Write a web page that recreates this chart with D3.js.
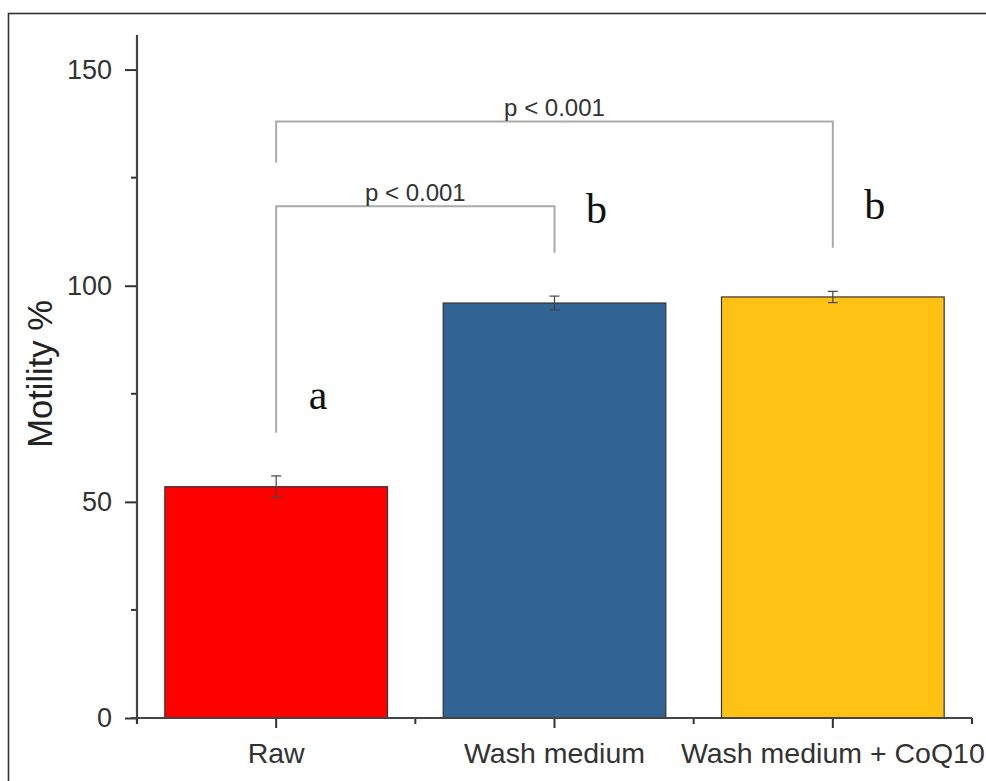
<!DOCTYPE html>
<html>
<head>
<meta charset="utf-8">
<script src="https://cdn.jsdelivr.net/npm/d3@7"></script>
<style>
  body { margin: 0; background: #fff; }
  svg { display: block; }
</style>
</head>
<body>
<div id="chart"></div>
<script>
var width = 986;
var height = 781;

// data
var groups = ["Raw", "Wash medium", "Wash medium + CoQ10"];
var means = [53.5, 96.0, 97.4];
var errs = [2.5, 1.6, 1.3];
var barColors = ["#fe0000", "#316395", "#fec214"];
var letters = ["a", "b", "b"];
var yTicks = [0, 50, 100, 150];
var yMinor = [25, 75, 125];

// brackets: [from group, to group, top value, left leg end, right leg end, label]
var brackets = [
	[0, 1, 118.4, 66, 107.6, "p < 0.001"],
	[0, 2, 138.0, 128.5, 108.8, "p < 0.001"]
];

var svg = d3.select("#chart")
	.append("svg")
	.attr("width", width)
	.attr("height", height);

// outer frame
svg.append("rect")
	.attr("x", 8.5)
	.attr("y", 13.5)
	.attr("width", width)
	.attr("height", height)
	.attr("fill", "none")
	.attr("stroke", "#333")
	.attr("stroke-width", 1.6);

var x = d3.scaleBand()
	.domain(groups)
	.range([137, 972])
	.paddingInner(0.2)
	.paddingOuter(0.1);

var y = d3.scaleLinear()
	.domain([0, 158])
	.range([718, 35]);

var font = "'Liberation Sans', Arial, sans-serif";

// bars
svg.append("g")
	.selectAll("rect")
	.data(groups)
	.enter()
	.append("rect")
	.attr("x", function(d) { return x(d); })
	.attr("y", function(d, i) { return y(means[i]); })
	.attr("width", x.bandwidth())
	.attr("height", function(d, i) { return y(0) - y(means[i]); })
	.attr("fill", function(d, i) { return barColors[i]; })
	.attr("stroke", "#333")
	.attr("stroke-width", 1.2);

// error bars
var eb = svg.append("g").attr("stroke", "#444").attr("stroke-width", 1.2);
groups.forEach(function(g, i) {
	var cx = x(g) + x.bandwidth() / 2;
	eb.append("line").attr("x1", cx).attr("x2", cx)
		.attr("y1", y(means[i] + errs[i])).attr("y2", y(means[i] - errs[i]));
	[means[i] + errs[i], means[i] - errs[i]].forEach(function(v) {
		eb.append("line").attr("x1", cx - 5).attr("x2", cx + 5)
			.attr("y1", y(v)).attr("y2", y(v));
	});
});

// y axis
var yAxis = svg.append("g")
	.attr("transform", "translate(137,0)")
	.call(d3.axisLeft(y).tickValues(yTicks).tickSize(12).tickPadding(13));
yAxis.select(".domain").remove();
yAxis.selectAll(".tick line").attr("stroke", "#333").attr("stroke-width", 2);
yAxis.selectAll(".tick text")
	.attr("fill", "#333")
	.style("font-family", font)
	.style("font-size", "27px");
svg.append("g")
	.selectAll("line")
	.data(yMinor)
	.enter()
	.append("line")
	.attr("x1", 131).attr("x2", 137)
	.attr("y1", function(d) { return y(d); })
	.attr("y2", function(d) { return y(d); })
	.attr("stroke", "#333").attr("stroke-width", 2);
svg.append("line")
	.attr("x1", 137).attr("x2", 137)
	.attr("y1", y.range()[1]).attr("y2", y(0) + 6)
	.attr("stroke", "#444").attr("stroke-width", 2.2);

// x axis
var xAxis = svg.append("g")
	.attr("transform", "translate(0,718)")
	.call(d3.axisBottom(x).tickSize(10).tickPadding(15));
xAxis.select(".domain").remove();
xAxis.selectAll(".tick line").attr("stroke", "#333").attr("stroke-width", 2);
xAxis.selectAll(".tick text")
	.attr("fill", "#333")
	.style("font-family", font)
	.style("font-size", "28.5px");
var xMinor = [x.range()[0], x.range()[1]];
for (var k = 1; k < groups.length; k++) {
	xMinor.push((x(groups[k - 1]) + x(groups[k]) + x.bandwidth()) / 2);
}
svg.append("g")
	.selectAll("line")
	.data(xMinor)
	.enter()
	.append("line")
	.attr("x1", function(d) { return d; })
	.attr("x2", function(d) { return d; })
	.attr("y1", 718).attr("y2", 724)
	.attr("stroke", "#333").attr("stroke-width", 2);
svg.append("line")
	.attr("x1", 131).attr("x2", 972)
	.attr("y1", 718).attr("y2", 718)
	.attr("stroke", "#444").attr("stroke-width", 2.2);

// y label
svg.append("text")
	.attr("transform", "translate(52," + 374 + ") rotate(-90)")
	.attr("text-anchor", "middle")
	.attr("fill", "#222")
	.style("font-family", font)
	.style("font-size", "34.5px")
	.text("Motility %");

// significance brackets
function cx(i) { return x(groups[i]) + x.bandwidth() / 2; }
brackets.forEach(function(b) {
	var x1 = cx(b[0]), x2 = cx(b[1]);
	svg.append("path")
		.attr("d", "M" + x1 + "," + y(b[3]) + "V" + y(b[2]) + "H" + x2 + "V" + y(b[4]))
		.attr("fill", "none")
		.attr("stroke", "#aaa")
		.attr("stroke-width", 2);
	svg.append("text")
		.attr("x", (x1 + x2) / 2)
		.attr("y", y(b[2]) - 5)
		.attr("text-anchor", "middle")
		.attr("fill", "#333")
		.style("font-family", font)
		.style("font-size", "24px")
		.text(b[5]);
});

// group letters: [x offset from bar centre, baseline value]
var letterPos = [[42, 71.5], [42, 114.6], [42, 115.5]];
svg.append("g")
	.selectAll("text")
	.data(letters)
	.enter()
	.append("text")
	.attr("x", function(d, i) { return cx(i) + letterPos[i][0]; })
	.attr("y", function(d, i) { return y(letterPos[i][1]); })
	.attr("text-anchor", "middle")
	.attr("fill", "#111")
	.style("font-family", "'Liberation Serif', 'Times New Roman', serif")
	.style("font-size", "42px")
	.text(function(d) { return d; });
</script>
</body>
</html>
